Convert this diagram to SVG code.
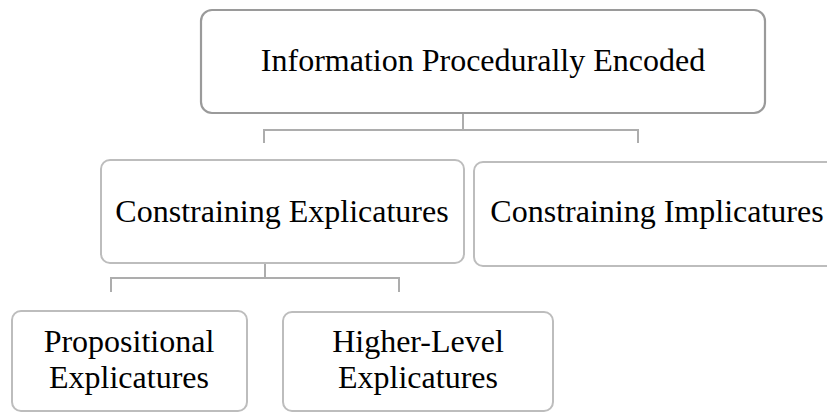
<svg xmlns="http://www.w3.org/2000/svg" width="827" height="412" viewBox="0 0 827 412">
<style>
.box{fill:#fff;stroke:#bdbdbd;stroke-width:2}
.top{fill:#fff;stroke:#9a9a9a;stroke-width:2.2}
.lbl{font-family:"Liberation Serif","Times New Roman",serif;font-size:32px;fill:#000;text-anchor:middle}
.conn{fill:none;stroke:#adadad;stroke-width:2}
</style>
<rect width="827" height="412" fill="#fff"/>
<g id="connectors">
<path class="conn" d="M463 113V130M264 143V130H638V143"/>
<path class="conn" d="M265 248V278M111 292V278H399V292"/>
</g>
<g id="n-info">
<rect class="top" x="201" y="10" width="564" height="103" rx="11"/>
<text class="lbl" x="483" y="71">Information Procedurally Encoded</text>
</g>
<g id="n-cexp">
<rect class="box" x="101" y="160" width="363" height="103" rx="9"/>
<text class="lbl" x="282" y="222">Constraining Explicatures</text>
</g>
<g id="n-cimp">
<rect class="box" x="474" y="162" width="368" height="104" rx="9"/>
<text class="lbl" x="657" y="222">Constraining Implicatures</text>
</g>
<g id="n-prop">
<rect class="box" x="12" y="311" width="235" height="100" rx="9"/>
<text class="lbl" x="129" y="352">Propositional</text>
<text class="lbl" x="129" y="388">Explicatures</text>
</g>
<g id="n-higher">
<rect class="box" x="283" y="312" width="270" height="99" rx="9"/>
<text class="lbl" x="418" y="352">Higher-Level</text>
<text class="lbl" x="418" y="388">Explicatures</text>
</g>
</svg>
